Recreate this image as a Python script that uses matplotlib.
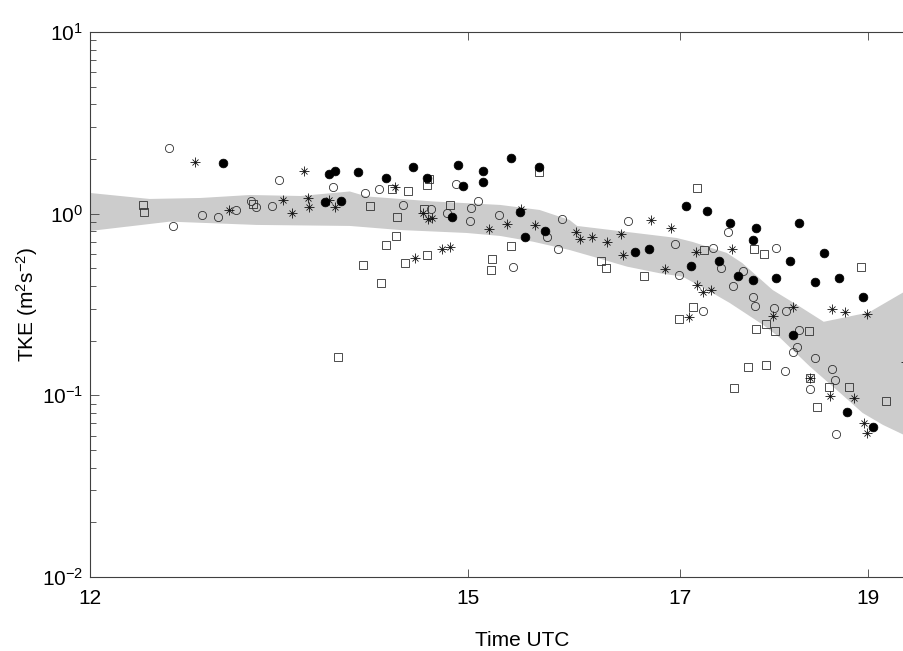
import numpy as np
import matplotlib
matplotlib.use("Agg")
import matplotlib.pyplot as plt
from matplotlib.ticker import FixedLocator, FixedFormatter, NullLocator, LogLocator

plt.rcParams['font.family'] = ['Liberation Sans', 'DejaVu Sans']
plt.rcParams['mathtext.fontset'] = 'custom'
plt.rcParams['mathtext.rm'] = 'Liberation Sans'
plt.rcParams['mathtext.it'] = 'Liberation Sans:italic'

# spread of the model (grey band), time in hours UTC
band_t_upper = [12.00, 12.43, 12.81, 13.19, 13.59, 13.99, 14.13, 14.70, 15.29, 15.65, 15.93,
                16.00, 16.48, 16.97, 17.13, 17.48, 17.64, 17.96, 18.25, 18.51, 19.01, 19.41, 19.59]
band_upper = [1.300, 1.205, 1.220, 1.267, 1.251, 1.325, 1.244, 1.167, 1.117, 1.048, 0.923,
              0.856, 0.793, 0.735, 0.699, 0.608, 0.535, 0.380, 0.308, 0.254, 0.286, 0.371, 0.410]
band_t_lower = [12.00, 12.58, 13.24, 13.99, 14.41, 14.99, 15.29, 15.59, 15.93, 16.15, 16.48, 16.80,
                17.03, 17.31, 17.51, 17.86, 18.04, 18.36, 18.69, 18.94, 19.17, 19.41, 19.59]
band_lower = [0.803, 0.904, 0.867, 0.856, 0.813, 0.783, 0.754, 0.701, 0.631, 0.580, 0.511, 0.470,
              0.450, 0.372, 0.3225, 0.244, 0.207, 0.144, 0.1031, 0.0800, 0.0687, 0.0605, 0.0568]

# filled circles
filled_t = [12.98, 13.82, 13.87, 14.06, 13.79, 13.92, 14.29, 14.52, 14.64, 14.91, 14.96, 14.86,
            15.14, 15.14, 15.39, 15.64, 15.47, 15.70, 15.52, 16.56, 16.69, 17.06, 17.28, 17.51,
            17.11, 17.40, 17.60, 17.75, 17.78, 17.75, 18.24, 18.15, 18.51, 18.00, 18.41, 18.68,
            18.94, 18.18, 18.77, 19.06]
filled_tke = [1.89, 1.66, 1.72, 1.69, 1.155, 1.175, 1.57, 1.81, 1.58, 1.85, 1.42, 0.963,
              1.71, 1.49, 2.03, 1.81, 1.018, 0.806, 0.744, 0.618, 0.642, 1.103, 1.039, 0.885,
              0.515, 0.549, 0.454, 0.432, 0.831, 0.714, 0.892, 0.547, 0.610, 0.444, 0.419, 0.444,
              0.347, 0.215, 0.0810, 0.0670]

# open circles
open_t = [12.57, 12.60, 12.82, 12.94, 13.08, 13.20, 13.24, 13.36, 13.42, 13.85, 14.12, 14.23,
          14.44, 14.68, 14.82, 14.90, 15.09, 15.03, 15.02, 15.28, 15.72, 15.86, 15.82, 15.41,
          16.49, 16.95, 16.99, 17.24, 17.34, 17.49, 17.42, 17.65, 17.54, 17.75, 17.77, 18.00,
          17.97, 18.10, 18.24, 18.22, 18.18, 18.42, 18.09, 18.60, 18.63, 18.36, 18.65]
open_tke = [2.29, 0.852, 0.980, 0.963, 1.052, 1.179, 1.084, 1.107, 1.533, 1.408, 1.295, 1.362,
            1.112, 1.065, 1.013, 1.457, 1.170, 1.075, 0.915, 0.980, 0.742, 0.939, 0.637, 0.511,
            0.915, 0.684, 0.460, 0.291, 0.645, 0.796, 0.504, 0.486, 0.402, 0.349, 0.310, 0.645,
            0.301, 0.291, 0.229, 0.184, 0.174, 0.160, 0.136, 0.139, 0.1215, 0.1084, 0.0611]

# open squares
square_t = [12.38, 12.39, 13.21, 13.89, 14.16, 14.34, 14.48, 14.39, 14.38, 14.29, 14.10, 14.25,
            14.45, 14.64, 14.66, 14.64, 14.62, 14.84, 15.64, 15.39, 15.22, 15.21, 16.23, 16.28,
            16.65, 17.18, 17.25, 17.13, 16.99, 17.76, 17.87, 17.78, 17.89, 17.98, 18.35, 18.92,
            17.70, 17.89, 17.55, 18.36, 18.57, 18.79, 19.20, 18.44]
square_tke = [1.121, 1.026, 1.131, 0.163, 1.107, 1.362, 1.338, 0.959, 0.757, 0.673, 0.524, 0.416,
              0.533, 0.595, 1.552, 1.433, 1.061, 1.121, 1.690, 0.667, 0.565, 0.490, 0.547, 0.504,
              0.456, 1.390, 0.631, 0.307, 0.263, 0.642, 0.598, 0.233, 0.248, 0.227, 0.225, 0.511,
              0.1439, 0.147, 0.1103, 0.1247, 0.1116, 0.1112, 0.0935, 0.0866]

# asterisks
star_t = [12.77, 13.03, 13.45, 13.52, 13.62, 13.65, 13.66, 13.82, 13.87, 14.37, 14.61, 14.65,
          14.69, 14.54, 14.77, 14.84, 15.19, 15.35, 15.48, 15.61, 15.99, 16.03, 16.14, 16.29,
          16.42, 16.44, 16.71, 16.91, 16.85, 17.16, 17.53, 17.17, 17.24, 17.32, 17.09, 17.96,
          18.18, 18.60, 18.74, 18.99, 18.36, 18.58, 18.84, 18.96, 18.99, 19.43]
star_tke = [1.933, 1.044, 1.190, 1.005, 1.711, 1.225, 1.093, 1.190, 1.093, 1.408, 1.005, 0.931,
            0.943, 0.570, 0.637, 0.653, 0.824, 0.881, 1.057, 0.867, 0.793, 0.728, 0.742, 0.701,
            0.770, 0.595, 0.927, 0.837, 0.494, 0.615, 0.639, 0.405, 0.372, 0.380, 0.271, 0.275,
            0.308, 0.298, 0.289, 0.281, 0.1247, 0.0992, 0.0971, 0.0702, 0.0619, 0.1527]

fig = plt.figure(figsize=(9.04, 6.51), dpi=100)
ax = fig.add_axes([90 / 904, 74 / 651, 864.8 / 904, 545 / 651])

poly_t = np.concatenate([band_t_upper, band_t_lower[::-1]])
poly_v = np.concatenate([band_upper, band_lower[::-1]])
ax.fill(poly_t, poly_v, color='#cccccc', lw=0, zorder=1)

ax.plot(open_t, open_tke, 'o', ms=5.9, mfc='none', mec='#303030', mew=0.6, zorder=3)
ax.plot(square_t, square_tke, 's', ms=5.6, mfc='none', mec='#303030', mew=0.6, zorder=3)
ax.plot(star_t, star_tke, '+', ms=7.0, mec='#101010', mew=0.6, zorder=3)
ax.plot(star_t, star_tke, 'x', ms=5.0, mec='#101010', mew=0.6, zorder=3)
ax.plot(filled_t, filled_tke, 'o', ms=6.3, mfc='black', mec='black', mew=0.5, zorder=4)

ax.set_xscale('log')
ax.set_yscale('log')
ax.set_xlim(12, 20)
ax.set_ylim(1e-2, 1e1)

ax.xaxis.set_major_locator(FixedLocator([12, 15, 17, 19]))
ax.xaxis.set_major_formatter(FixedFormatter(['12', '15', '17', '19']))
ax.xaxis.set_minor_locator(NullLocator())
ax.yaxis.set_major_locator(LogLocator(base=10, numticks=10))
ax.yaxis.set_minor_locator(LogLocator(base=10, subs=np.arange(2, 10), numticks=20))

ax.tick_params(which='both', direction='in', top=True, right=True, colors='#404040',
               labelcolor='black', labelsize=15, width=0.6)
ax.tick_params(axis='x', which='major', length=5.5, pad=9)
ax.tick_params(axis='y', which='major', length=6.5, pad=5)
ax.tick_params(axis='y', which='minor', length=4)

for sp in ax.spines.values():
    sp.set_color('#404040')
    sp.set_linewidth(0.8)

ax.set_xlabel('Time UTC', fontsize=15)
ax.set_ylabel('TKE (m$^2$s$^{-2}$)', fontsize=15)
ax.xaxis.set_label_coords(0.5, -0.1)
ax.yaxis.set_label_coords(-0.058, 0.5)

fig.savefig('out.png', dpi=100)
